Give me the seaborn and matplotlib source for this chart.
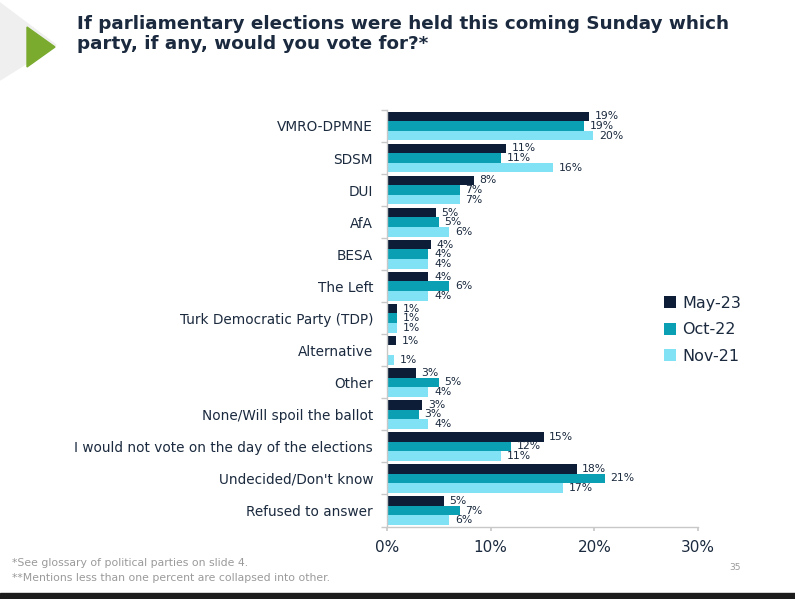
import numpy as np
import pandas as pd
import matplotlib
matplotlib.use("Agg")
import matplotlib.pyplot as plt
import seaborn as sns
from matplotlib.patches import Polygon, Rectangle
from matplotlib.ticker import FixedLocator, PercentFormatter

# ---------------- data ----------------
parties = ["VMRO-DPMNE", "SDSM", "DUI", "AfA", "BESA", "The Left",
           "Turk Democratic Party (TDP)", "Alternative", "Other",
           "None/Will spoil the ballot",
           "I would not vote on the day of the elections",
           "Undecided/Don't know", "Refused to answer"]
waves = ["May-23", "Oct-22", "Nov-21"]

may23 = [19.5, 11.5, 8.4, 4.7, 4.2, 4.0, 1.0, 0.9, 2.8, 3.4, 15.1, 18.3, 5.5]
oct22 = [19.0, 11.0, 7.0, 5.0, 4.0, 6.0, 1.0, 0.0, 5.0, 3.1, 12.0, 21.0, 7.0]
nov21 = [19.9, 16.0, 7.0, 6.0, 4.0, 4.0, 1.0, 0.7, 4.0, 4.0, 11.0, 17.0, 6.0]

may23_lbl = [19, 11, 8, 5, 4, 4, 1, 1, 3, 3, 15, 18, 5]
oct22_lbl = [19, 11, 7, 5, 4, 6, 1, None, 5, 3, 12, 21, 7]
nov21_lbl = [20, 16, 7, 6, 4, 4, 1, 1, 4, 4, 11, 17, 6]

colors = ["#0d1d38", "#0b9fb4", "#80e2f4"]
navy = "#1b2a3e"

df = pd.DataFrame({
    "party": parties * 3,
    "wave": [w for w in waves for _ in parties],
    "value": may23 + oct22 + nov21,
})

# ---------------- figure ----------------
sns.set_theme(style="white")
plt.rcParams['font.family'] = ['DejaVu Sans']

fig = plt.figure(figsize=(7.95, 5.99), dpi=100)
ax = fig.add_axes([0.4868, 0.121, 0.3912, 0.6954])

sns.barplot(data=df, y="party", x="value", hue="wave", order=parties,
            hue_order=waves, palette=colors, width=0.9, orient="h",
            ax=ax, saturation=1, linewidth=0, edgecolor="none")

# data labels
for cont, lbls in zip(ax.containers, [may23_lbl, oct22_lbl, nov21_lbl]):
    texts = [f"{v}%" if v is not None else "" for v in lbls]
    ax.bar_label(cont, labels=texts, padding=4, fontsize=7.8, color=navy)

ax.set_xlim(0, 30)
ax.set_ylim(12.5, -0.5)
ax.set_xticks([0, 10, 20, 30])
ax.xaxis.set_major_formatter(PercentFormatter(decimals=0))
ax.set_xlabel("")
ax.set_ylabel("")

ax.tick_params(axis="x", length=3, color="#c8c8c8", labelsize=11,
               labelcolor=navy, pad=7, bottom=True)
ax.tick_params(axis="y", which="major", length=0, labelsize=9.8,
               labelcolor=navy, pad=10)
ax.yaxis.set_minor_locator(FixedLocator(np.arange(-0.5, 13, 1)))
ax.tick_params(axis="y", which="minor", length=4, color="#c8c8c8", left=True)

for s in ["top", "right"]:
    ax.spines[s].set_visible(False)
for s in ["left", "bottom"]:
    ax.spines[s].set_color("#c8c8c8")
    ax.spines[s].set_linewidth(1)

# legend
handles, labels = ax.get_legend_handles_labels()
ax.legend(handles, labels, loc="upper left", bbox_to_anchor=(0.817, 0.53),
          bbox_transform=fig.transFigure, frameon=False, fontsize=11.5,
          handlelength=0.75, handleheight=0.75, handletextpad=0.4,
          labelspacing=0.72, labelcolor=navy)

# ---------------- decoration ----------------
fig.patches.append(Polygon([[0, 1 - 3 / 599], [56 / 795, 1 - 45 / 599],
                            [0, 1 - 80 / 599]], closed=True,
                           transform=fig.transFigure, color="#efefef", zorder=0))
fig.patches.append(Polygon([[27 / 795, 1 - 27 / 599], [55 / 795, 1 - 47 / 599],
                            [27 / 795, 1 - 67 / 599]], closed=True,
                           transform=fig.transFigure, color="#7aab2f", zorder=1))
fig.patches.append(Rectangle((0, 0), 1, 6 / 599, transform=fig.transFigure,
                             color="#1c1c1c", zorder=1))

fig.text(77 / 795, 1 - 34 / 599,
         "If parliamentary elections were held this coming Sunday which\n"
         "party, if any, would you vote for?*",
         ha="left", va="center", fontsize=13.2, fontweight="bold",
         color=navy, linespacing=1.1)

fig.text(12 / 795, 1 - 563 / 599, "*See glossary of political parties on slide 4.",
         ha="left", va="center", fontsize=7.8, color="#9a9a9a")
fig.text(12 / 795, 1 - 578 / 599,
         "**Mentions less than one percent are collapsed into other.",
         ha="left", va="center", fontsize=7.8, color="#9a9a9a")
fig.text(735 / 795, 1 - 567 / 599, "35", ha="center", va="center",
         fontsize=6.5, color="#9a9a9a")

fig.savefig("out.png", dpi=100)
